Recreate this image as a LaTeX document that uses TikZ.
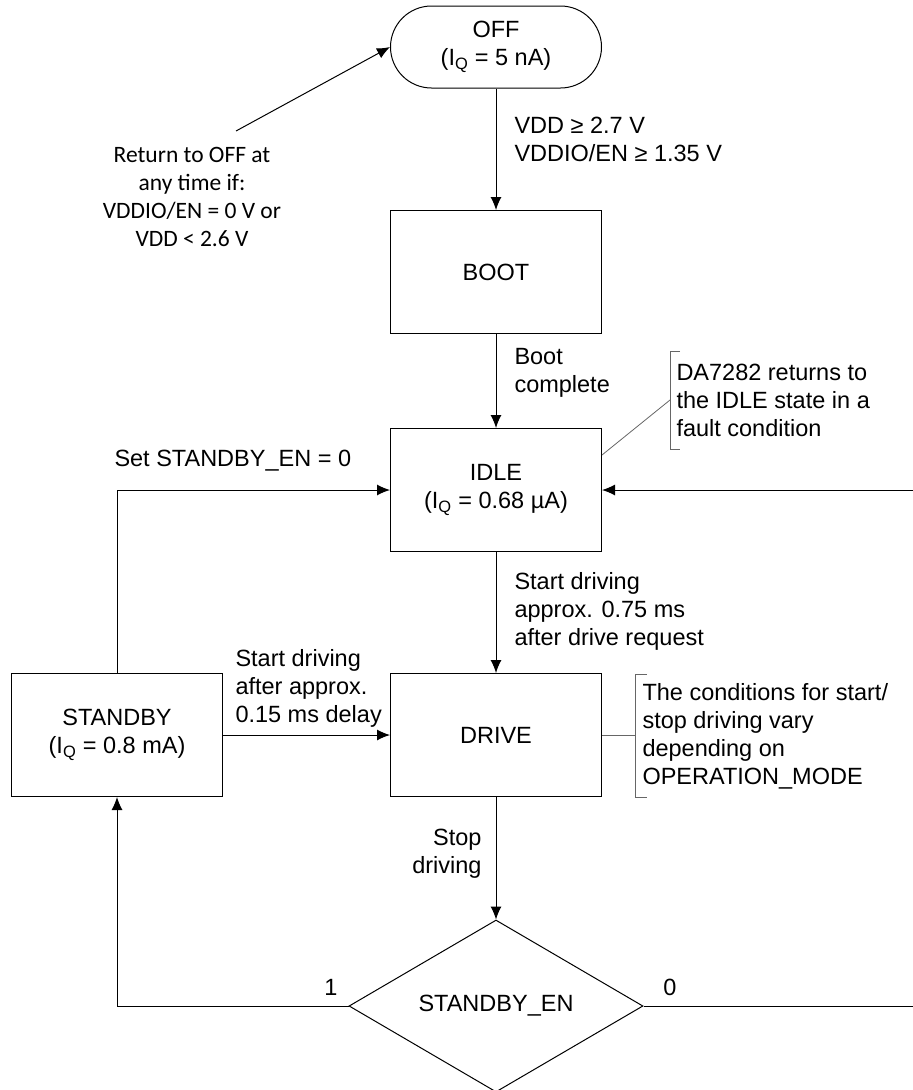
\documentclass[tikz,border=0pt]{standalone}
\usepackage{fontspec}
\setmainfont{Liberation Sans}
\newfontfamily\calfont{Carlito}
\usetikzlibrary{arrows.meta,shapes.geometric}
\tikzset{
  state/.style={draw,line width=1pt,minimum width=211pt,minimum height=123pt,align=center,inner sep=0pt},
  cond/.style={align=left,inner sep=0pt},
  notebr/.style={line width=0.8pt,black!60}
}

\begin{document}
\begin{tikzpicture}[x=1pt,y=-1pt,>={Latex[length=13pt,width=11pt]},line width=1pt,
  every node/.append style={font=\fontsize{23.5}{28}\selectfont}]
\useasboundingbox (0,0) rectangle (913,1090);
\node [state,minimum height=82pt,rounded corners=41pt] (off) at (496,47) {OFF\\(I\textsubscript{Q} = 5 nA)};
\node [state] (boot) at (496,272) {BOOT};
\node [state] (idle) at (496,490) {IDLE\\(I\textsubscript{Q} = 0.68 µA)};
\node [state] (drive) at (496,735) {DRIVE};
\node [state] (standby) at (117,735) {STANDBY\\(I\textsubscript{Q} = 0.8 mA)};
\node [draw,line width=1pt,diamond,aspect=1.71,minimum width=294pt,minimum height=172pt,inner sep=0pt] (sben) at (496,1006) {STANDBY\_EN};
\coordinate (ret) at (236,131);
\coordinate (redge) at (913,490);
\coordinate (dedge) at (913,1006);
% transitions
\draw [->] (off) -- (boot);
\draw [->] (ret) -- (off.west);
\draw [->] (boot) -- (idle);
\draw [->] (idle) -- (drive);
\draw [->] (standby) -- (drive);
\draw [->] (standby.north) |- (idle.west);
\draw [->] (drive) -- (sben.north);
\draw [->] (sben.west) -| (standby.south);
\draw (sben.east) -- (dedge);
\draw [->] (redge) -- (idle.east);
% labels
\node [cond,anchor=west] (lpow) at (514,139) {VDD ≥ 2.7 V\\VDDIO/EN ≥ 1.35 V};
\node [align=center,inner sep=0pt,font=\calfont\fontsize{23.5}{28}\selectfont] (lret) at (192,197) {Return to OFF at\\any time if:\\VDDIO/EN = 0 V or\\VDD < 2.6 V};
\node [cond,anchor=west] (lboot) at (514,373) {Boot\\complete};
\node [cond,anchor=west] (lstart) at (514,611) {Start driving\\approx. 0.75 ms\\after drive request};
\node [cond,anchor=west] (lsbstart) at (235,688) {Start driving\\after approx.\\0.15 ms delay};
\node [cond,anchor=west] (lset) at (114,461) {Set STANDBY\_EN = 0};
\node [align=right,inner sep=0pt,anchor=east] (lstop) at (482,854) {Stop\\driving};
\node [inner sep=0pt] (lone) at (331,987) {1};
\node [inner sep=0pt] (lzero) at (670,987) {0};
% notes
\draw [notebr] (680,351) -- (670,351) -- (670,449) -- (680,449);
\draw [notebr] (idle.north east) ++(0,27) -- (670,400);
\node [cond,anchor=west] (nfault) at (676,400) {DA7282 returns to\\the IDLE state in a\\fault condition};
\draw [notebr] (647,674) -- (635,674) -- (635,797) -- (647,797);
\draw [notebr] (drive.east) -- (635,735);
\node [cond,anchor=west] (nmode) at (642,736) {The conditions for start/\\stop driving vary\\depending on\\OPERATION\_MODE};
\end{tikzpicture}
\end{document}
